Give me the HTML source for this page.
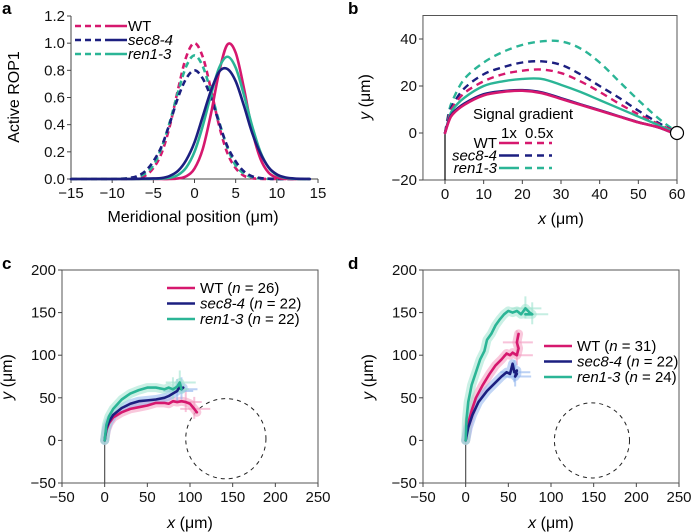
<!DOCTYPE html>
<html><head><meta charset="utf-8"><style>
body{margin:0;background:#fff}
svg{display:block;font-family:"Liberation Sans",Arial,sans-serif}
</style></head><body>
<svg id="fig" width="691" height="532" viewBox="0 0 691 532"></svg>
<script>
// ---------- Panel a data ----------
const aX = [-15,-14,-13,-12,-11,-10,-9,-8,-7,-6,-5,-4,-3,-2,-1,0,1,2,3,4,5,6,7,8,9,10,11,12,13,14];
const aWTsolid  = [0,0,0,0,0,0,0,0,0,0,0,0,0,0.004,0.02,0.077,0.22,0.48,0.79,0.99,0.93,0.67,0.36,0.15,0.047,0.011,0.002,0,0,0];
const aSecSolid = [0,0,0,0,0,0,0,0,0.001,0.003,0.004,0.007,0.023,0.06,0.14,0.27,0.46,0.65,0.79,0.81,0.72,0.54,0.34,0.19,0.086,0.034,0.012,0.004,0.001,0];
const aRenSolid = [0,0,0,0,0,0,0,0,0,0,0.001,0.003,0.009,0.03,0.085,0.2,0.39,0.62,0.82,0.9,0.82,0.62,0.39,0.2,0.085,0.03,0.009,0.002,0,0];
const aWTdash   = [0,0,0,0,0,0,0,0,0.006,0.024,0.08,0.19,0.39,0.66,0.9,1.0,0.9,0.66,0.39,0.19,0.08,0.024,0.006,0.001,0,0,0,0,0,0];
const aSecDash  = [0,0,0,0,0,0,0.002,0.007,0.02,0.056,0.13,0.24,0.41,0.6,0.74,0.8,0.74,0.6,0.41,0.24,0.13,0.056,0.02,0.007,0.002,0,0,0,0,0];
const aRenDash  = [0,0,0,0,0,0,0.001,0.004,0.013,0.04,0.1,0.23,0.42,0.64,0.83,0.91,0.83,0.64,0.42,0.23,0.1,0.04,0.013,0.004,0.001,0,0,0,0,0];
const aXTicks = [-15,-10,-5,0,5,10,15];
const aYTicks = [0,0.2,0.4,0.6,0.8,1.0,1.2];
// ---------- Panel b data ----------
const bX = [0,1,2,5,10,15,20,25,30,35,40,45,50,55,59];
const bWTsolid  = [0,5,8,12,16,17.5,18,17,14.5,12,9.5,7,4.5,2.5,0];
const bSecSolid = [0,5.5,8.5,12.5,16.5,17.8,18.2,17.3,14.8,12.2,9.7,7.1,4.6,2.5,0];
const bRenSolid = [0,6,10,15,20,22,23,23,20.5,17.5,14,10.5,7,3.5,0.5];
const bWTdash   = [0,7,11,17,22,25,26.5,27,25.5,22,17.5,12.5,8,4,1];
const bSecDash  = [0,8,12,19,25,28,30,30.5,29,25,20,15,9.5,4.5,1];
const bRenDash  = [0,9,14,23,30,34.5,37.5,39,39,36,30,22,14,6.5,1.5];
const bXTicks = [0,10,20,30,40,50,60];
const bYTicks = [-20,0,20,40];
// ---------- Panel c data ----------
const cWTx = [0,2,5,10,20,30,40,50,60,70,75,80,85,90,95,100,105,108];
const cWTy = [0,12,20,27,33,37,39,41,44,44,43,46,45,46,45,43,37,33];
const cSecx = [0,2,5,10,20,30,40,50,60,70,75,80,85,87,90,92];
const cSecy = [0,14,22,30,38,43,46,47,48,50,52,55,58,62,60,62];
const cRenx = [0,2,5,10,20,30,40,50,60,70,75,80,85,88,90];
const cReny = [0,18,28,37,48,55,59,62,62,60,62,60,63,68,60];
// ---------- Panel d data ----------
const dWTx = [0,3,7,12,20,28,35,42,48,52,55,60,62,60,62];
const dWTy = [0,20,35,50,65,78,88,95,102,100,103,100,108,115,125];
const dSecx = [0,3,8,15,25,35,42,48,52,55,57,60,58,60];
const dSecy = [0,15,30,45,58,68,75,80,78,90,80,82,75,78];
const dRenx = [0,1,3,7,12,17,22,25,30,35,40,45,50,55,60,65,70,75,78,70];
const dReny = [0,25,45,65,80,95,105,118,125,135,142,148,152,150,152,148,155,150,148,148];
const cdXTicks = [-50,0,50,100,150,200,250];
const cdYTicks = [-50,0,50,100,150,200];

const C = {wt:'#d6186e', sec:'#1c1f80', ren:'#2bb596'};
const L = {wt:'#f49ac0', sec:'#8fb4ee', ren:'#9fe3cf'};
const NS = 'http://www.w3.org/2000/svg';
const svg = document.getElementById('fig');
function mk(tag, attrs, parent, text){
  const e = document.createElementNS(NS, tag);
  for (const k in attrs) e.setAttribute(k, attrs[k]);
  if (text !== undefined) e.textContent = text;
  (parent||svg).appendChild(e);
  return e;
}
function scale(d0,d1,r0,r1){ return v => r0 + (v-d0)*(r1-r0)/(d1-d0); }
function smoothPath(pts){
  let d = 'M'+pts[0][0].toFixed(2)+','+pts[0][1].toFixed(2);
  for (let i=0;i<pts.length-1;i++){
    const p0=pts[Math.max(0,i-1)],p1=pts[i],p2=pts[i+1],p3=pts[Math.min(pts.length-1,i+2)];
    const c1=[p1[0]+(p2[0]-p0[0])/6,p1[1]+(p2[1]-p0[1])/6];
    const c2=[p2[0]-(p3[0]-p1[0])/6,p2[1]-(p3[1]-p1[1])/6];
    d+=' C'+c1[0].toFixed(2)+','+c1[1].toFixed(2)+' '+c2[0].toFixed(2)+','+c2[1].toFixed(2)+' '+p2[0].toFixed(2)+','+p2[1].toFixed(2);
  }
  return d;
}
function linePath(pts){ return 'M'+pts.map(p=>p[0].toFixed(2)+','+p[1].toFixed(2)).join(' L'); }
function fmt(v,dec){ const s=v.toFixed(dec); return v<0 ? '\u2212'+s.slice(1) : s; }

function axes(g, sx, sy, xT, yT, box, x0, x1, y0, y1, dec){
  const bx0=sx(x0), bx1=sx(x1), by0=sy(y0), by1=sy(y1);
  if (box){
    const r = mk('rect',{x:bx0,y:by1,width:bx1-bx0,height:by0-by1,fill:'none',stroke:'#555','stroke-width':1},g);
     
  } else {
    const l1 = mk('line',{x1:bx0,y1:by1,x2:bx0,y2:by0,stroke:'#444','stroke-width':1},g);
     
    const l2 = mk('line',{x1:bx0,y1:by0,x2:bx1,y2:by0,stroke:'#444','stroke-width':1},g);
     
  }
  xT.forEach(v=>{
    mk('line',{x1:sx(v),y1:by0,x2:sx(v),y2:by0+4,stroke:'#444'},g);
    const t = mk('text',{x:sx(v),y:by0+19,'font-size':15,'text-anchor':'middle',fill:'#111'},g,fmt(v,0));
     
  });
  yT.forEach(v=>{
    mk('line',{x1:bx0-4,y1:sy(v),x2:bx0,y2:sy(v),stroke:'#444'},g);
    const t = mk('text',{x:bx0-6,y:sy(v)+5,'font-size':15,'text-anchor':'end',fill:'#111'},g,fmt(v,dec));
     
  });
}
function panelLetter(ch,x,y){
  const t = mk('text',{x:x,y:y,'font-size':17,'font-weight':'bold',fill:'#000'},svg,ch);
   
}
function series(g, xs, ys, sx, sy, color, width, dash, smooth, name){
  const pts = xs.map((x,i)=>[sx(x), sy(ys[i])]);
  const p = mk('path',{d: smooth?smoothPath(pts):linePath(pts), fill:'none', stroke:color,'stroke-width':width,'stroke-linejoin':'round','stroke-linecap':dash?'butt':'round'},g);
  if (dash) p.setAttribute('stroke-dasharray', dash);
  
  
  return p;
}

// ================= Panel a =================
(function(){
  const g = mk('g',{});  
  const sx = scale(-15,15,71,318), sy = scale(0,1.2,179,16);
  axes(g,sx,sy,aXTicks,aYTicks,false,-15,15,0,1.2,1);
  series(g,aX,aWTdash,sx,sy,C.wt,2.6,'6 4',true,'line-wt-dashed');
  series(g,aX,aRenDash,sx,sy,C.ren,2.6,'6 4',true,'line-ren1-3-dashed');
  series(g,aX,aSecDash,sx,sy,C.sec,2.6,'6 4',true,'line-sec8-4-dashed');
  series(g,aX,aWTsolid,sx,sy,C.wt,2.6,null,true,'line-wt-solid');
  series(g,aX,aRenSolid,sx,sy,C.ren,2.6,null,true,'line-ren1-3-solid');
  series(g,aX,aSecSolid,sx,sy,C.sec,2.6,null,true,'line-sec8-4-solid');
  const yt = mk('text',{x:0,y:0,'font-size':16,'text-anchor':'middle',transform:'translate(19,97) rotate(-90)'},g,'Active ROP1');
   
  const xt = mk('text',{x:193,y:222,'font-size':16,'text-anchor':'middle'},g,'Meridional position (\u03bcm)');
   
  const leg = [['WT',C.wt,false],['sec8-4',C.sec,true],['ren1-3',C.ren,true]];
  leg.forEach((e,i)=>{
    const y = 26 + i*14;
    const lg = mk('g',{},g);  
    mk('line',{x1:75,y1:y,x2:107,y2:y,stroke:e[1],'stroke-width':2.6,'stroke-dasharray':'6 4'},lg);
    mk('line',{x1:107,y1:y,x2:127,y2:y,stroke:e[1],'stroke-width':2.6},lg);
    mk('text',{x:128,y:y+5,'font-size':15,'font-style':e[2]?'italic':'normal'},lg,e[0]);
  });
})();
panelLetter('a',2,14);

// ================= Panel b =================
(function(){
  const g = mk('g',{});  
  const sx = scale(0,60,445,677), sy = scale(0,40,133,39);
  axes(g,sx,sy,bXTicks,bYTicks,true,-5.7,60,-20,50,0);
  mk('line',{x1:sx(0),y1:sy(0),x2:sx(0),y2:sy(-20),stroke:'#000','stroke-width':1.2},g);
  series(g,bX,bRenDash,sx,sy,C.ren,2.4,'7 5',true,'line-ren1-3-0.5x');
  series(g,bX,bSecDash,sx,sy,C.sec,2.4,'7 5',true,'line-sec8-4-0.5x');
  series(g,bX,bWTdash,sx,sy,C.wt,2.4,'7 5',true,'line-wt-0.5x');
  series(g,bX,bRenSolid,sx,sy,C.ren,2.4,null,true,'line-ren1-3-1x');
  series(g,bX,bSecSolid,sx,sy,C.sec,2.6,null,true,'line-sec8-4-1x');
  series(g,bX,bWTsolid,sx,sy,C.wt,2.6,null,true,'line-wt-1x');
  const c = mk('circle',{cx:sx(60),cy:sy(0),r:6.5,fill:'#fff',stroke:'#000','stroke-width':1.2},g);
   
  const yt = mk('text',{x:0,y:0,'font-size':16,'text-anchor':'middle',transform:'translate(370,97) rotate(-90)'},g);
  yt.innerHTML='<tspan font-style="italic">y</tspan> (\u03bcm)';
   
  const xt = mk('text',{x:561,y:224,'font-size':16,'text-anchor':'middle'},g);
  xt.innerHTML='<tspan font-style="italic">x</tspan> (\u03bcm)';
   
  const lt = mk('text',{x:473,y:119,'font-size':15},g,'Signal gradient');
   
  mk('text',{x:501,y:138,'font-size':15},g,'1x');
  mk('text',{x:525,y:138,'font-size':15},g,'0.5x');
  const leg = [['WT',C.wt,false],['sec8-4',C.sec,true],['ren1-3',C.ren,true]];
  leg.forEach((e,i)=>{
    const y = 143 + i*12.5;
    const lg = mk('g',{},g);  
    mk('text',{x:497,y:y+5,'font-size':15,'text-anchor':'end','font-style':e[2]?'italic':'normal'},lg,e[0]);
    mk('line',{x1:499,y1:y,x2:519,y2:y,stroke:e[1],'stroke-width':2.6},lg);
    mk('line',{x1:525,y1:y,x2:552,y2:y,stroke:e[1],'stroke-width':2.6,'stroke-dasharray':'7 5'},lg);
  });
})();
panelLetter('b',348,14);

// ================= Panels c, d =================
function trajPanel(name, x0px, sets, legX, legY, circ){
  const g = mk('g',{});  
  const sx = scale(-50,250,x0px,x0px+256), sy = scale(-50,200,483,270);
  axes(g,sx,sy,cdXTicks,cdYTicks,true,-50,250,-50,200,0);
  mk('line',{x1:sx(0),y1:sy(0),x2:sx(0),y2:sy(-50),stroke:'#555','stroke-width':1.2},g);
  const ci = mk('circle',{cx:sx(circ[0]),cy:sy(circ[1]),r:circ[2]*256/300,fill:'none',stroke:'#222','stroke-width':1,'stroke-dasharray':'4 4'},g);
   
  sets.forEach(s=>{
    const band = series(g,s.x,s.y,sx,sy,L[s.k],9,null,false,'error-band-'+s.label);
    band.setAttribute('opacity','0.55');
    const n = s.x.length-1;
    [n-3,n-1].forEach(j=>{
      const cx=sx(s.x[j]), cy=sy(s.y[j]);
      mk('line',{x1:cx-14,y1:cy,x2:cx+16,y2:cy,stroke:L[s.k],'stroke-width':2,opacity:0.6},g);
      mk('line',{x1:cx,y1:cy-12,x2:cx,y2:cy+10,stroke:L[s.k],'stroke-width':2,opacity:0.6},g);
    });
  });
  sets.forEach(s=>{ series(g,s.x,s.y,sx,sy,C[s.k],2.6,null,false,'trajectory-'+s.label); });
  const yt = mk('text',{x:0,y:0,'font-size':16,'text-anchor':'middle',transform:'translate('+(x0px-50)+',377) rotate(-90)'},g);
  yt.innerHTML='<tspan font-style="italic">y</tspan> (\u03bcm)';
   
  const xt = mk('text',{x:x0px+128,y:528,'font-size':16,'text-anchor':'middle'},g);
  xt.innerHTML='<tspan font-style="italic">x</tspan> (\u03bcm)';
   
  sets.forEach((s,i)=>{
    const y = legY + i*15.5;
    const lg = mk('g',{},g);  
    mk('line',{x1:legX,y1:y,x2:legX+28,y2:y,stroke:C[s.k],'stroke-width':2.6},lg);
    const t = mk('text',{x:legX+33,y:y+5,'font-size':15},lg);
    t.innerHTML = (s.label==='WT'?'WT':'<tspan font-style="italic">'+s.label+'</tspan>')+' (<tspan font-style="italic">n</tspan> = '+s.n+')';
  });
}
trajPanel('panel-c',62,[
  {k:'wt',label:'WT',x:cWTx,y:cWTy,n:26},
  {k:'sec',label:'sec8-4',x:cSecx,y:cSecy,n:22},
  {k:'ren',label:'ren1-3',x:cRenx,y:cReny,n:22}], 167, 288, [142,2,47]);
trajPanel('panel-d',423,[
  {k:'wt',label:'WT',x:dWTx,y:dWTy,n:31},
  {k:'sec',label:'sec8-4',x:dSecx,y:dSecy,n:22},
  {k:'ren',label:'ren1-3',x:dRenx,y:dReny,n:24}], 544, 346, [148,0,44]);
panelLetter('c',2,269);
panelLetter('d',348,269);
</script>
</body></html>
